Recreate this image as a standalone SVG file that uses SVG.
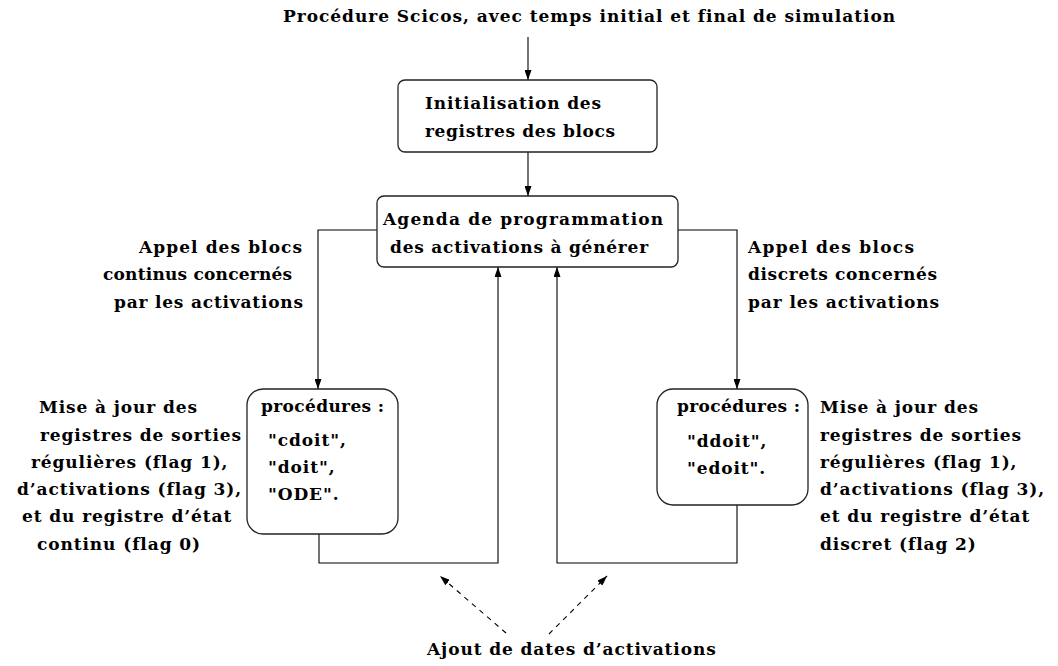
<svg xmlns="http://www.w3.org/2000/svg" width="1058" height="666" viewBox="0 0 1058 666">
  <style>
    text { font-family: "DejaVu Serif", "Liberation Serif", serif; font-weight: bold; font-size: 17px; letter-spacing: 0.9px; fill: #000; }
    .box { fill: #fff; stroke: #222; stroke-width: 1.3; }
    .link { fill: none; stroke: #000; stroke-width: 1.1; }
    .dash { fill: none; stroke: #000; stroke-width: 1.1; stroke-dasharray: 5 5; }
  </style>
  <defs>
    <marker id="arrow" markerUnits="userSpaceOnUse" markerWidth="10" markerHeight="7" refX="10" refY="3.5" orient="auto">
      <path d="M0,0 L10,3.5 L0,7 z" fill="#000"/>
    </marker>
  </defs>
  <rect width="1058" height="666" fill="#fff"/>

  <!-- connectors -->
  <g id="connectors">
    <line class="link" x1="528" y1="37" x2="528" y2="80" marker-end="url(#arrow)"/>
    <line class="link" x1="528" y1="152" x2="528" y2="196" marker-end="url(#arrow)"/>
    <path class="link" d="M377,230 H318 V389" marker-end="url(#arrow)"/>
    <path class="link" d="M678,230 H737 V389" marker-end="url(#arrow)"/>
    <path class="link" d="M319,534 V563 H498 V267" marker-end="url(#arrow)"/>
    <path class="link" d="M737,505 V563 H557 V267" marker-end="url(#arrow)"/>
    <line class="dash" x1="506" y1="633" x2="440" y2="576" marker-end="url(#arrow)"/>
    <line class="dash" x1="549" y1="634" x2="607" y2="576" marker-end="url(#arrow)"/>
  </g>

  <!-- free labels -->
  <g id="title">
    <text x="283" y="22" textLength="613">Procédure Scicos, avec temps initial et final de simulation</text>
  </g>

  <g id="init">
    <rect class="box" x="398" y="80" width="259" height="72" rx="7"/>
    <text x="425" y="109" textLength="177">Initialisation des</text>
    <text x="425" y="137" textLength="191">registres des blocs</text>
  </g>

  <g id="agenda">
    <rect class="box" x="377" y="196" width="301" height="71" rx="7"/>
    <text x="383" y="225" textLength="281">Agenda de programmation</text>
    <text x="390" y="253" textLength="259">des activations à générer</text>
  </g>

  <g id="label-continus">
    <text x="139" y="253" textLength="164">Appel des blocs</text>
    <text x="103" y="280" textLength="190">continus concernés</text>
    <text x="114" y="308" textLength="190">par les activations</text>
  </g>

  <g id="label-discrets">
    <text x="748" y="253" textLength="167">Appel des blocs</text>
    <text x="748" y="280" textLength="190">discrets concernés</text>
    <text x="748" y="308" textLength="192">par les activations</text>
  </g>

  <g id="proc-continus">
    <rect class="box" x="247" y="389" width="151" height="145" rx="16"/>
    <text x="261" y="412" textLength="124">procédures :</text>
    <text x="268" y="446">"cdoit",</text>
    <text x="268" y="473">"doit",</text>
    <text x="268" y="500">"ODE".</text>
  </g>

  <g id="proc-discrets">
    <rect class="box" x="657" y="389" width="151" height="116" rx="16"/>
    <text x="677" y="412" textLength="124">procédures :</text>
    <text x="687" y="447">"ddoit",</text>
    <text x="687" y="474">"edoit".</text>
  </g>

  <g id="maj-continus">
    <text x="39" y="413">Mise à jour des</text>
    <text x="40" y="441">registres de sorties</text>
    <text x="31" y="468">régulières (flag 1),</text>
    <text x="17" y="495">d’activations (flag 3),</text>
    <text x="22" y="522">et du registre d’état</text>
    <text x="37" y="550">continu (flag 0)</text>
  </g>

  <g id="maj-discrets">
    <text x="820" y="413">Mise à jour des</text>
    <text x="820" y="441">registres de sorties</text>
    <text x="820" y="468">régulières (flag 1),</text>
    <text x="820" y="495">d’activations (flag 3),</text>
    <text x="820" y="522">et du registre d’état</text>
    <text x="820" y="550">discret (flag 2)</text>
  </g>

  <g id="ajout">
    <text x="427" y="655">Ajout de dates d’activations</text>
  </g>
</svg>
